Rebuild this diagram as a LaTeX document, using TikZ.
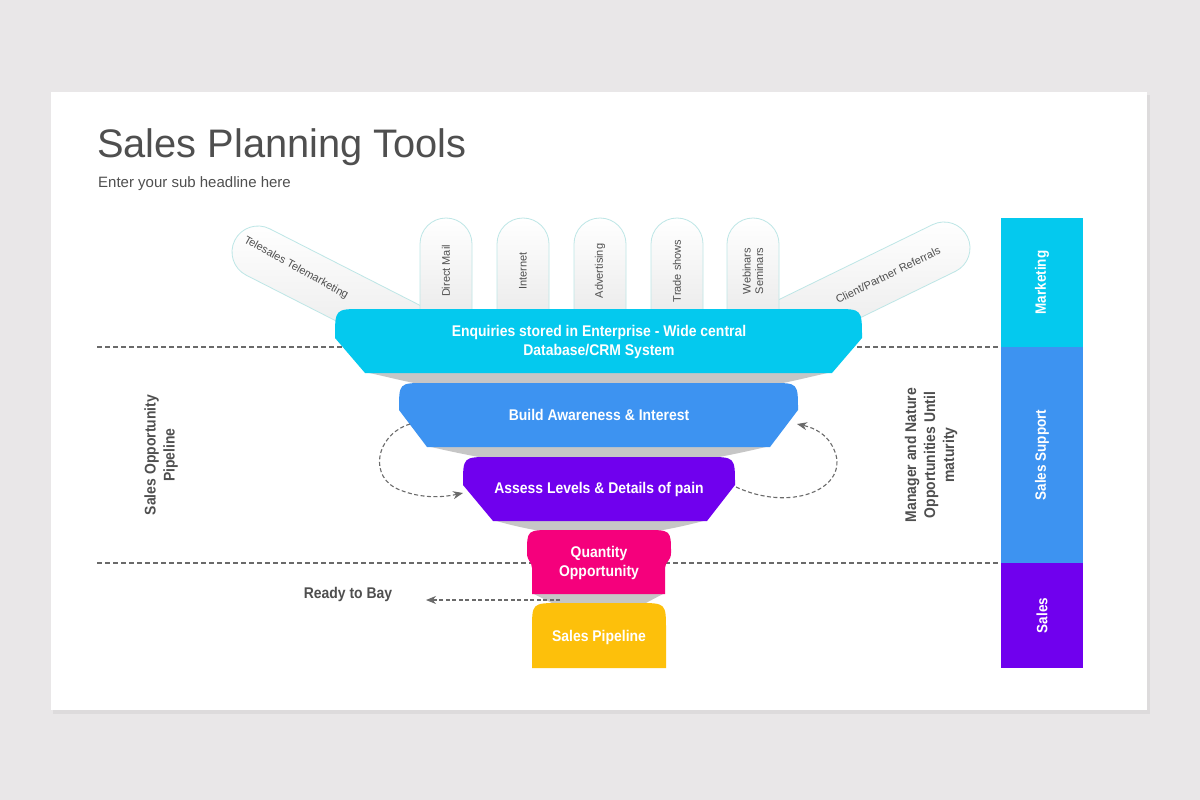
\documentclass[tikz,border=0pt]{standalone}
\usepackage{fontspec}
\setmainfont{Liberation Sans}
\newfontfamily\mfont{Liberation Sans}[FakeStretch=0.9]
\usetikzlibrary{arrows.meta}
\definecolor{bg}{HTML}{E9E7E8}
\definecolor{cyanF}{HTML}{04C9EE}
\definecolor{blueF}{HTML}{3D93F1}
\definecolor{purpF}{HTML}{7000EE}
\definecolor{pinkF}{HTML}{F5007C}
\definecolor{yellF}{HTML}{FDC00B}
\definecolor{greyF}{HTML}{C6C6C6}
\definecolor{txt}{HTML}{4F4F4F}
\definecolor{pillB}{HTML}{BDE6E6}
\definecolor{dashC}{HTML}{6A6A6A}
\begin{document}
\begin{tikzpicture}[x=1pt,y=-1pt,
  sepline/.style={draw=dashC, line width=1.1pt, dash pattern=on 5pt off 3pt},
  loopline/.style={draw=dashC, line width=1.1pt, dash pattern=on 4pt off 2.5pt, -{Stealth[length=10pt,width=8pt]}},
  pillshape/.style={draw=pillB, line width=0.8pt, top color=white, bottom color=black!9},
  pilltext/.style={text=txt, inner sep=0, font=\fontsize{11}{12.5}\selectfont, align=center},
  ftext/.style={text=white, inner sep=0, align=center, font={\mfont\bfseries\fontsize{15.5}{19}\selectfont}},
  lbl/.style={text=txt, inner sep=0, align=center, font={\mfont\bfseries\fontsize{15.5}{19}\selectfont}},
  barbox/.style={rotate=90, inner sep=0, text=white, font={\mfont\bfseries\fontsize{15}{18}\selectfont}, minimum height=82pt}
]
\useasboundingbox (0,0) rectangle (1200,800);
\fill[bg] (0,0) rectangle (1200,800);
\fill[black, opacity=0.05] (53,95) rectangle (1150,714);
\fill[white] (51,92) rectangle (1147,710);

% titles
\node[anchor=base west, inner sep=0, text=txt, font=\fontsize{39.8}{45}\selectfont] (title) at (97,157) {Sales Planning Tools};
\node[anchor=base west, inner sep=0, text=txt, font=\fontsize{15}{18}\selectfont] (sub) at (98,187) {Enter your sub headline here};

% separators
\coordinate (s1a) at (97,347); \coordinate (s1b) at (1001,347);
\coordinate (s2a) at (97,563); \coordinate (s2b) at (1001,563);
\draw[sepline] (s1a) -- (s1b);
\draw[sepline] (s2a) -- (s2b);

% tilted pills
\begin{scope}[shift={(258,252)}, rotate=-27]
  \path[pillshape] (200,26) -- (0,26) arc[start angle=90, end angle=270, radius=26] -- (200,-26);
\end{scope}
\begin{scope}[shift={(944,248)}, rotate=26]
  \path[pillshape] (-200,-26) -- (0,-26) arc[start angle=270, end angle=450, radius=26] -- (-200,26);
\end{scope}
\node[pilltext, rotate=-29] (tele) at (296,268) {Telesales Telemarketing};
\node[pilltext, rotate=26] (client) at (888,275) {Client/Partner Referrals};

% vertical pills
\foreach \x/\t/\n in {446/Direct Mail/p1, 523/Internet/p2, 600/Advertising/p3, 677/Trade shows/p4, 753/{Webinars\\Seminars}/p5}{
  \path[pillshape] (\x-26,330) -- (\x-26,244) arc[start angle=180, end angle=360, radius=26] -- (\x+26,330);
  \node[pilltext, rotate=90] (\n) at (\x,271) {\t};
}

% grey connectors
\fill[greyF] (365,372) -- (832,372) .. controls (805,378) and (790,382) .. (772,385) -- (425,385) .. controls (407,382) and (392,378) .. (365,372) -- cycle;
\fill[greyF] (427,446) -- (770,446) .. controls (745,452) and (725,456) .. (708,459) -- (490,459) .. controls (473,456) and (452,452) .. (427,446) -- cycle;
\fill[greyF] (493,520) -- (707,520) .. controls (685,526) and (665,530) .. (645,533) -- (553,533) .. controls (533,530) and (513,526) .. (493,520) -- cycle;
\fill[greyF] (532,593) -- (665,593) .. controls (655,598) and (648,602) .. (640,606) -- (558,606) .. controls (550,602) and (542,598) .. (532,593) -- cycle;

% funnel
\fill[cyanF] (335,338) .. controls (335,309) and (335,309) .. (362,309) -- (835,309) .. controls (862,309) and (862,309) .. (862,338) -- (832,373) -- (365,373) -- cycle;
\fill[blueF] (399,410) .. controls (399,383) and (399,383) .. (425,383) -- (772,383) .. controls (798,383) and (798,383) .. (798,410) -- (770,447) -- (427,447) -- cycle;
\fill[purpF] (463,485) .. controls (463,457) and (463,457) .. (490,457) -- (708,457) .. controls (735,457) and (735,457) .. (735,485) -- (707,521) -- (493,521) -- cycle;
\fill[pinkF] (527,553) .. controls (527,530) and (527,530) .. (553,530) -- (645,530) .. controls (671,530) and (671,530) .. (671,553) .. controls (671,561) and (665,562) .. (665,568) -- (665,594) -- (532,594) -- (532,568) .. controls (532,562) and (527,561) .. (527,553) -- cycle;
\fill[yellF] (532,630) .. controls (532,603) and (532,603) .. (560,603) -- (638,603) .. controls (666,603) and (666,603) .. (666,630) -- (666,668) -- (532,668) -- cycle;

\node[ftext] (enq) at (599,342) {Enquiries stored in Enterprise - Wide central\\Database/CRM System};
\node[ftext] (aware) at (599,415) {Build Awareness \& Interest};
\node[ftext] (assess) at (599,489) {Assess Levels \& Details of pain};
\node[ftext] (qty) at (599,563) {Quantity\\Opportunity};
\node[ftext] (pipe) at (599,637) {Sales Pipeline};

% loops
\coordinate (bl) at (410,424); \coordinate (pl) at (463,493);
\coordinate (pr) at (736,487); \coordinate (br) at (797,424);
\draw[loopline] (bl) .. controls (375,435) and (368,478) .. (400,490) .. controls (420,498) and (440,498) .. (pl);
\draw[loopline] (pr) .. controls (790,512) and (845,490) .. (836,455) .. controls (830,435) and (815,428) .. (br);

% ready to bay
\node[lbl] (ready) at (348,594) {Ready to Bay};
\coordinate (rs) at (560,600); \coordinate (re) at (426,600);
\draw[loopline] (rs) -- (re);

% side labels
\node[lbl, rotate=90] (sop) at (161,455) {Sales Opportunity\\Pipeline};
\node[lbl, rotate=90] (mgr) at (931,455) {Manager and Nature\\Opportunities Until\\maturity};

% right bar
\node[barbox, fill=cyanF, minimum width=129pt] (mkt) at (1042,282.5) {Marketing};
\node[barbox, fill=blueF, minimum width=216pt] (ssup) at (1042,455) {Sales Support};
\node[barbox, fill=purpF, minimum width=105pt] (sales) at (1042,615.5) {Sales};
\end{tikzpicture}
\end{document}
